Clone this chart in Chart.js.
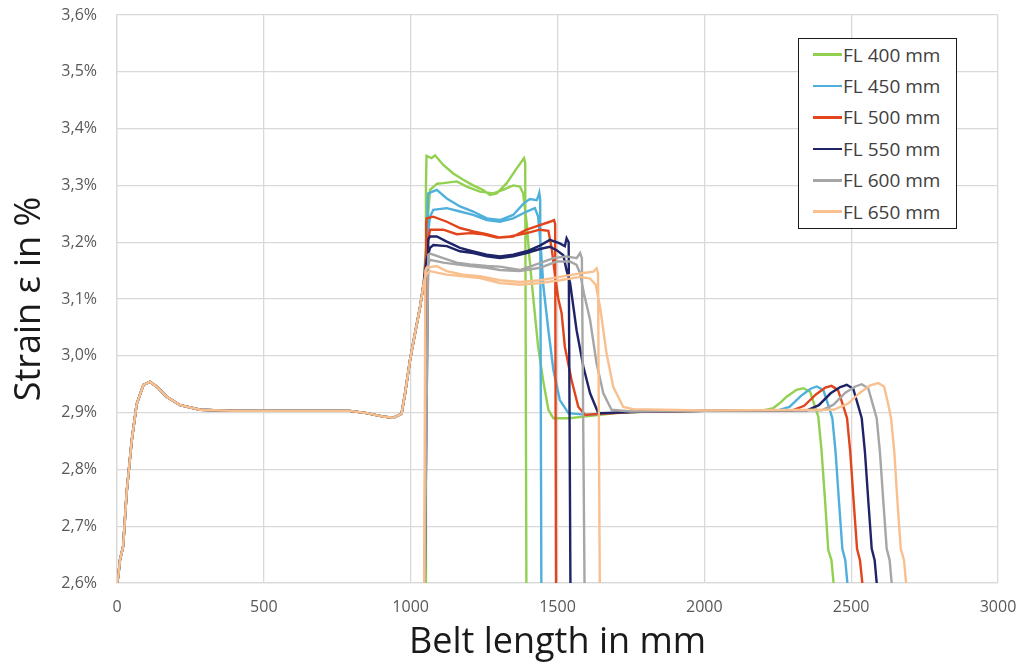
<!DOCTYPE html>
<html>
<head>
<meta charset="utf-8">
<script src="https://cdn.jsdelivr.net/npm/chart.js@4.4.0/dist/chart.umd.min.js"></script>
<style>
  html, body { margin: 0; padding: 0; background: #ffffff; }
  #wrap { position: relative; width: 1021px; height: 666px; }
  #legend {
    position: absolute; left: 798px; top: 38px; width: 159px; height: 191px;
    box-sizing: border-box; border: 1.5px solid #1a1a1a; background: #ffffff;
    padding-top: 0px; font-family: 'Open Sans', sans-serif; font-size: 19px; color: #404040;
  }
  .item { height: 31.4px; display: flex; align-items: center; white-space: nowrap; }
  .swatch { width: 29px; height: 2.5px; margin-left: 14px; margin-right: 1px; }
</style>
</head>
<body>
<div id="wrap">
  <canvas id="c" width="1021" height="666"></canvas>
  <div id="legend"></div>
</div>
<script>
// ---------- DATA ----------
const xTickValues = [0, 500, 1000, 1500, 2000, 2500, 3000];
const xTickLabels = ['0', '500', '1000', '1500', '2000', '2500', '3000'];
const yTickValues = [2.6, 2.7, 2.8, 2.9, 3.0, 3.1, 3.2, 3.3, 3.4, 3.5, 3.6];
const yTickLabels = ['2,6%', '2,7%', '2,8%', '2,9%', '3,0%', '3,1%', '3,2%', '3,3%', '3,4%', '3,5%', '3,6%'];

const seriesLabels = ['FL 400 mm', 'FL 450 mm', 'FL 500 mm', 'FL 550 mm', 'FL 600 mm', 'FL 650 mm'];
const seriesColors = ['#92d050', '#4fb0dc', '#e2441c', '#1f2468', '#a6a6a6', '#f9c08f'];

// shared start of every curve (belt length mm, strain %)
const commonStart = [[0,2.60],[4,2.61],[10,2.64],[21,2.665],[33,2.76],[50,2.85],[67,2.915],[90,2.949],[112,2.954],[135,2.946],[169,2.928],[215,2.913],[283,2.905],[400,2.903],[600,2.903],[793,2.903],[850,2.899],[907,2.893],[941,2.891],[969,2.898],[981,2.934],[998,2.993],[1015,3.04],[1032,3.086],[1045,3.13]];

const fl400Main = [[1055,3.22],[1066,3.292],[1090,3.303],[1111,3.304],[1157,3.307],[1191,3.298],[1236,3.289],[1281,3.286],[1315,3.292],[1349,3.300],[1372,3.298],[1383,3.286],[1395,3.234],[1405,3.17],[1417,3.104],[1434,3.016],[1451,2.957],[1469,2.905],[1486,2.890],[1540,2.890],[1590,2.893],[1700,2.899],[1800,2.902],[2000,2.903],[2200,2.904],[2235,2.908],[2260,2.918],[2280,2.928],[2314,2.940],[2337,2.943],[2360,2.937],[2377,2.910],[2388,2.893],[2399,2.834],[2411,2.746],[2422,2.658],[2433,2.640],[2440,2.600]];
const fl400Loop = [[1050,2.60],[1052,3.30],[1054,3.352],[1071,3.348],[1083,3.353],[1111,3.336],[1145,3.321],[1179,3.310],[1213,3.300],[1247,3.292],[1270,3.283],[1293,3.286],[1327,3.304],[1361,3.330],[1378,3.342],[1386,3.348],[1390,3.340],[1394,2.60]];

const fl450Main = [[1055,3.20],[1066,3.245],[1077,3.257],[1123,3.260],[1168,3.254],[1213,3.248],[1259,3.239],[1304,3.236],[1349,3.242],[1395,3.254],[1423,3.260],[1434,3.245],[1442,3.20],[1452,3.122],[1469,3.045],[1486,2.975],[1508,2.922],[1537,2.899],[1600,2.896],[1700,2.900],[1800,2.902],[2000,2.903],[2250,2.904],[2290,2.910],[2330,2.930],[2362,2.942],[2383,2.946],[2405,2.940],[2424,2.910],[2436,2.890],[2447,2.830],[2459,2.740],[2470,2.660],[2480,2.640],[2487,2.600]];
const fl450Loop = [[1048,2.60],[1058,3.270],[1060,3.286],[1089,3.292],[1123,3.277],[1168,3.263],[1213,3.254],[1259,3.242],[1304,3.239],[1349,3.248],[1384,3.268],[1406,3.276],[1429,3.274],[1434,3.280],[1438,3.287],[1441,3.275],[1445,2.60]];

const fl500Main = [[1055,3.19],[1066,3.222],[1111,3.222],[1157,3.214],[1202,3.216],[1247,3.214],[1293,3.208],[1338,3.210],[1395,3.216],[1440,3.222],[1469,3.220],[1480,3.190],[1492,3.140],[1503,3.100],[1514,3.075],[1525,3.016],[1548,2.957],[1571,2.910],[1594,2.896],[1650,2.898],[1750,2.901],[2000,2.903],[2300,2.904],[2340,2.912],[2380,2.932],[2412,2.944],[2433,2.947],[2455,2.940],[2474,2.910],[2486,2.890],[2497,2.830],[2509,2.740],[2520,2.660],[2530,2.640],[2538,2.600]];
const fl500Loop = [[1048,2.60],[1053,3.235],[1054,3.242],[1077,3.245],[1123,3.236],[1168,3.225],[1213,3.219],[1259,3.214],[1304,3.208],[1349,3.210],[1395,3.222],[1440,3.230],[1474,3.236],[1488,3.239],[1492,3.232],[1495,2.60]];

const fl550Main = [[1055,3.17],[1066,3.19],[1077,3.195],[1123,3.193],[1168,3.184],[1213,3.181],[1259,3.175],[1304,3.172],[1349,3.175],[1395,3.181],[1440,3.188],[1474,3.192],[1497,3.186],[1520,3.177],[1531,3.150],[1543,3.128],[1565,3.045],[1588,2.981],[1611,2.934],[1639,2.899],[1700,2.900],[1800,2.902],[2000,2.903],[2350,2.904],[2390,2.913],[2430,2.934],[2463,2.945],[2485,2.949],[2507,2.942],[2525,2.910],[2536,2.890],[2547,2.830],[2559,2.740],[2570,2.660],[2580,2.640],[2587,2.600]];
const fl550Loop = [[1048,2.60],[1060,3.205],[1066,3.210],[1089,3.210],[1123,3.201],[1168,3.190],[1213,3.184],[1259,3.178],[1304,3.175],[1349,3.178],[1395,3.184],[1440,3.194],[1474,3.204],[1508,3.198],[1525,3.193],[1531,3.207],[1538,3.200],[1544,2.60]];

const fl600Main = [[1055,3.155],[1066,3.169],[1111,3.164],[1157,3.161],[1202,3.158],[1259,3.155],[1304,3.151],[1372,3.149],[1440,3.155],[1497,3.166],[1542,3.166],[1565,3.160],[1577,3.145],[1590,3.110],[1611,3.063],[1633,2.987],[1656,2.934],[1684,2.905],[1750,2.902],[2000,2.903],[2400,2.904],[2440,2.914],[2480,2.935],[2514,2.946],[2536,2.950],[2558,2.943],[2576,2.910],[2587,2.890],[2598,2.830],[2610,2.740],[2621,2.660],[2631,2.640],[2638,2.600]];
const fl600Loop = [[1048,2.60],[1060,3.178],[1066,3.180],[1111,3.172],[1157,3.164],[1202,3.161],[1259,3.158],[1304,3.157],[1372,3.151],[1440,3.163],[1486,3.172],[1531,3.175],[1565,3.172],[1577,3.181],[1583,3.172],[1592,2.60]];

const fl650Main = [[1055,3.145],[1066,3.149],[1122,3.143],[1179,3.140],[1236,3.137],[1304,3.128],[1372,3.125],[1440,3.128],[1508,3.133],[1577,3.139],[1611,3.136],[1630,3.125],[1645,3.086],[1667,3.004],[1690,2.945],[1724,2.910],[1758,2.906],[2000,2.904],[2440,2.905],[2490,2.916],[2530,2.935],[2565,2.948],[2592,2.952],[2612,2.946],[2626,2.915],[2636,2.890],[2647,2.830],[2658,2.740],[2669,2.660],[2680,2.640],[2687,2.600]];
const fl650Loop = [[1046,2.60],[1050,3.150],[1054,3.155],[1088,3.158],[1122,3.149],[1179,3.143],[1236,3.140],[1304,3.133],[1372,3.130],[1440,3.133],[1508,3.139],[1577,3.145],[1622,3.148],[1633,3.154],[1638,3.145],[1644,2.60]];

const seriesMain = [fl400Main, fl450Main, fl500Main, fl550Main, fl600Main, fl650Main];
const seriesLoop = [fl400Loop, fl450Loop, fl500Loop, fl550Loop, fl600Loop, fl650Loop];

// ---------- BUILD ----------
const toPts = arr => arr.map(p => ({ x: p[0], y: p[1] }));
const datasets = seriesLabels.map((label, i) => ({
  label,
  data: [
    ...toPts(commonStart),
    ...toPts(seriesMain[i]),
    { x: seriesLoop[i][0][0], y: null },
    ...toPts(seriesLoop[i])
  ],
  borderColor: seriesColors[i],
  backgroundColor: seriesColors[i],
  borderWidth: 2.4,
  pointRadius: 0,
  tension: 0,
  fill: false,
  spanGaps: false,
  order: seriesLabels.length - 1 - i
}));

const tickFont = { family: "'Open Sans', sans-serif", size: 16 };
const titleFont = { family: "'Open Sans', sans-serif", size: 36 };
const hidden = 'rgba(0,0,0,0)';

new Chart(document.getElementById('c'), {
  type: 'line',
  data: { datasets },
  options: {
    responsive: false,
    animation: false,
    devicePixelRatio: 1,
    layout: { padding: { left: 8, right: 23, top: 15, bottom: 2 } },
    plugins: { legend: { display: false }, tooltip: { enabled: false } },
    scales: {
      x: {
        type: 'linear', min: xTickValues[0], max: xTickValues[xTickValues.length - 1],
        afterBuildTicks: s => { s.ticks = xTickValues.map(v => ({ value: v })); },
        afterFit: s => { s.height = 81; },
        ticks: { callback: (v, i) => xTickLabels[i], font: tickFont, color: '#595959', padding: 0, maxRotation: 0, autoSkip: false },
        grid: { color: '#d9d9d9', lineWidth: 1.3, drawTicks: true, tickLength: 15, tickColor: hidden },
        border: { color: '#d9d9d9', width: 1.3 },
        title: { display: true, text: 'Belt length in mm', font: titleFont, color: '#1a1a1a', padding: 0 }
      },
      y: {
        type: 'linear', min: yTickValues[0], max: yTickValues[yTickValues.length - 1],
        afterBuildTicks: s => { s.ticks = yTickValues.map(v => ({ value: v })); },
        afterFit: s => { s.width = 109; },
        ticks: { callback: (v, i) => yTickLabels[i], font: tickFont, color: '#595959', padding: 0, autoSkip: false },
        grid: { color: '#d9d9d9', lineWidth: 1.3, drawTicks: true, tickLength: 20, tickColor: hidden },
        border: { color: '#d9d9d9', width: 1.3 },
        title: { display: true, text: 'Strain ε in %', font: titleFont, color: '#1a1a1a', padding: 0 }
      }
    }
  }
});

// HTML legend built from the series arrays
const legend = document.getElementById('legend');
seriesLabels.forEach((label, i) => {
  const row = document.createElement('div');
  row.className = 'item';
  const sw = document.createElement('span');
  sw.className = 'swatch';
  sw.style.background = seriesColors[i];
  const tx = document.createElement('span');
  tx.textContent = label;
  row.appendChild(sw); row.appendChild(tx);
  legend.appendChild(row);
});
</script>
</body>
</html>
